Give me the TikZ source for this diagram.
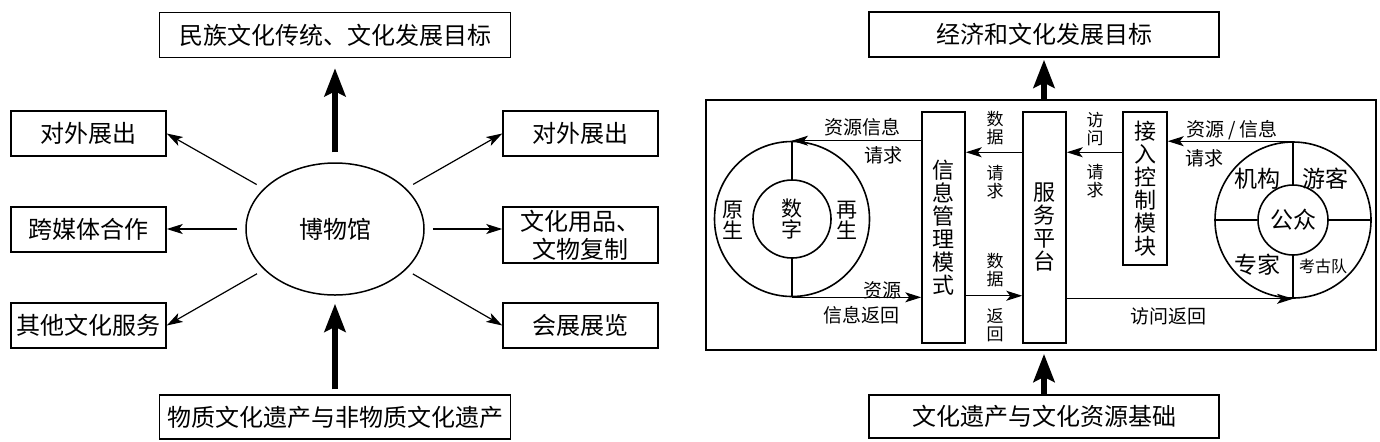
\documentclass[tikz,border=0pt]{standalone}
\usepackage{fontspec}
\setmainfont{Noto Sans CJK SC}
\usetikzlibrary{arrows.meta,positioning,calc,shapes.geometric}
\tikzset{
  box/.style={draw, line width=0.75pt, inner sep=0pt, align=center, font=\fontsize{12}{14}\selectfont},
  sidebox/.style={box, minimum width=77.5pt, minimum height=22.5pt},
  vbox/.style={draw, line width=0.75pt, inner sep=0pt, align=center, minimum width=21.5pt, font=\fontsize{11}{11.5}\selectfont},
  ring/.style={circle, draw, line width=0.8pt, inner sep=0pt, align=center},
  lbl/.style={inner sep=0pt, font=\fontsize{9.5}{10}\selectfont},
  vlbl/.style={inner sep=0pt, align=center, font=\fontsize{8.5}{9}\selectfont},
  arr/.style={line width=0.6pt, -{Stealth[length=8pt,width=5pt,inset=2pt]}},
  bigarr/.style={line width=3pt, -{Stealth[length=14pt,width=10.5pt,inset=2.5pt]}},
}
\begin{document}
\begin{tikzpicture}[x=0.5pt,y=-0.5pt]
  \useasboundingbox (0,0) rectangle (1380,441);
  % left: museum
  \node[ellipse, draw, line width=0.75pt, inner sep=0pt, minimum width=89pt, minimum height=66pt,
        font=\fontsize{12}{14}\selectfont] (mus) at (335,229) {博物馆};
  \node[box, minimum width=175.5pt, minimum height=22.5pt] (goalL) at (335,35) {民族文化传统、文化发展目标};
  \node[box, minimum width=175.5pt, minimum height=22pt] (heritL) at (335,417) {物质文化遗产与非物质文化遗产};
  \foreach \n/\y/\t in {outL/133.5/对外展出, mediaL/229.5/跨媒体合作, otherL/325.5/其他文化服务}
    \node[sidebox] (\n) at (88.5,\y) {\t};
  \node[sidebox] (outR) at (580.5,133.5) {对外展出};
  \node[sidebox, minimum height=28pt] (goodsR) at (580.5,235) {文化用品、\\文物复制};
  \node[sidebox] (expoR) at (580.5,325.5) {会展展览};
  \draw[bigarr, shorten <=5pt, shorten >=5pt] (mus) -- (goalL);
  \draw[bigarr, shorten <=2.5pt, shorten >=4pt] (heritL) -- (mus);
  \foreach \b in {outL, otherL}
    \draw[arr, shorten <=4pt] (mus) -- (\b.east);
  \foreach \b in {outR, expoR}
    \draw[arr, shorten <=4pt] (mus) -- (\b.west);
  \draw[arr, shorten <=4pt] (mus.west) -- (mus.west -| mediaL.east);
  \draw[arr, shorten <=4pt] (mus.east) -- (mus.east -| goodsR.west);

  % right: service platform
  \node[draw, line width=0.9pt, inner sep=0pt, minimum width=335pt, minimum height=125pt] (frame) at (1041,225) {};
  \node[box, minimum width=175pt, minimum height=22.5pt] (goalR) at (1044,34.5) {经济和文化发展目标};
  \node[box, minimum width=175pt, minimum height=21.5pt] (baseR) at (1044,416.5) {文化遗产与文化资源基础};
  \draw[bigarr, shorten >=1pt] (goalR.south |- frame.north) -- (goalR.south);
  \draw[bigarr, shorten >=1.5pt] (baseR.north) -- (baseR.north |- frame.south);

  \node[vbox, minimum height=115.5pt] (info) at (943.5,227.5) {信\\息\\管\\理\\模\\式};
  \node[vbox, minimum height=115.5pt] (serv) at (1044.5,227.5) {服\\务\\平\\台};
  \node[vbox, minimum width=22pt, minimum height=76.5pt] (access) at (1145,188.5) {接\\入\\控\\制\\模\\块};

  \node[ring, minimum size=77.5pt] (resC) at (792,219) {};
  \node[ring, minimum size=39pt, font=\fontsize{10.5}{10.5}\selectfont] (resIn) at (792,219) {数\\字};
  \draw[line width=0.8pt] (resC.north) -- (resIn.north) (resIn.south) -- (resC.south);
  \node[vlbl, font=\fontsize{10.5}{10.5}\selectfont] (native) at (733,220) {原\\生};
  \node[vlbl, font=\fontsize{10.5}{10.5}\selectfont] (regen) at (847,220) {再\\生};

  \node[ring, minimum size=78pt] (pubC) at (1293,220) {};
  \node[ring, minimum size=35pt, font=\fontsize{11.5}{12}\selectfont] (pubIn) at (1293,220) {公众};
  \draw[line width=0.8pt] (pubC.north) -- (pubIn.north) (pubIn.south) -- (pubC.south)
    (pubC.west) -- (pubIn.west) (pubIn.east) -- (pubC.east);
  \node[lbl, font=\fontsize{11.5}{12}\selectfont] (inst) at (1257,179) {机构};
  \node[lbl, font=\fontsize{11.5}{12}\selectfont] (tour) at (1325,179) {游客};
  \node[lbl, font=\fontsize{11.5}{12}\selectfont] (expert) at (1257,265) {专家};
  \node[lbl, font=\fontsize{8}{9}\selectfont] (arch) at (1323,266) {考古队};

  % flows
  \draw[arr] (resC.north -| info.west) -- (resC.north);
  \draw[arr] (resC.south) -- (resC.south -| info.west);
  \draw[arr] ([yshift=-20.5pt]serv.north west) -- ([yshift=-20.5pt]info.north east);
  \draw[arr] ([yshift=24pt]info.south east) -- ([yshift=24pt]serv.south west);
  \coordinate (accIn) at ([yshift=-20.5pt]access.north west);
  \draw[arr] (accIn) -- (accIn -| serv.east);
  \draw[arr] (pubC.north) -- (pubC.north -| access.east);
  \draw[arr] (pubC.south -| serv.east) -- (pubC.south);

  \node[lbl] (q1a) at (862,127) {资源信息};
  \node[lbl] (q1b) at (883,155) {请求};
  \node[lbl] (r1a) at (882,290) {资源};
  \node[lbl] (r1b) at (861,315) {信息返回};
  \node[vlbl] (q2a) at (995,128.5) {数\\据};
  \node[vlbl] (q2b) at (995,182.5) {请\\求};
  \node[vlbl] (r2a) at (995,270) {数\\据};
  \node[vlbl] (r2b) at (995,325) {返\\回};
  \node[vlbl] (q3a) at (1095,129.5) {访\\问};
  \node[vlbl] (q3b) at (1095,181.5) {请\\求};
  \node[lbl] (q4a) at (1232,130.5) {资源 / 信息};
  \node[lbl] (q4b) at (1204,158.5) {请求};
  \node[lbl] (r4) at (1168,316) {访问返回};
\end{tikzpicture}
\end{document}
